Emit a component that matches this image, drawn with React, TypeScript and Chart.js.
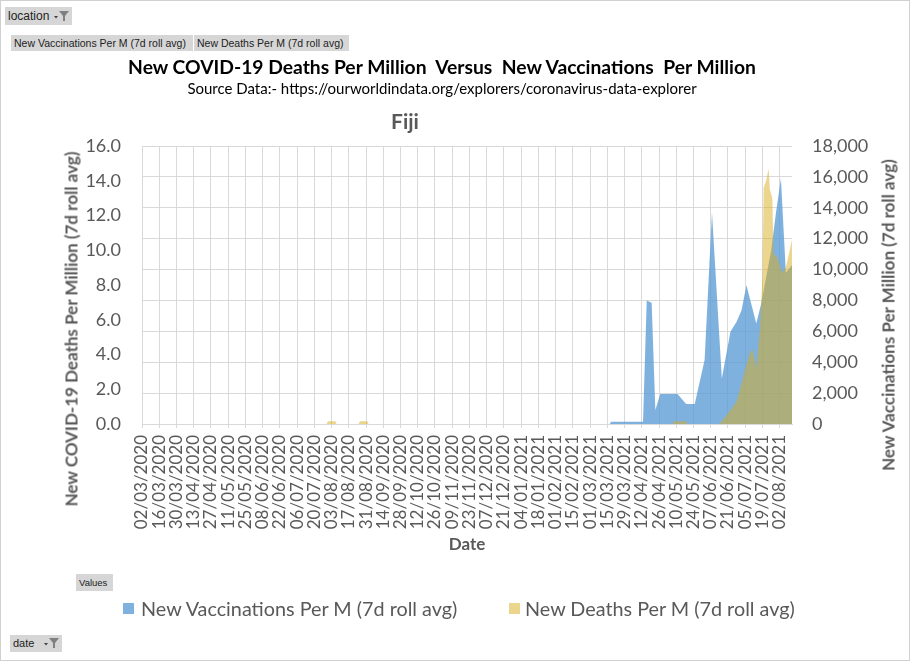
import React, { useEffect, useRef } from "react";
import { Chart, registerables } from "chart.js";

Chart.register(...registerables);

const START_DATE = "2020-03-02";
const END_DATE = "2021-08-12";

const xTickLabels = [
  "02/03/2020", "16/03/2020", "30/03/2020", "13/04/2020", "27/04/2020", "11/05/2020",
  "25/05/2020", "08/06/2020", "22/06/2020", "06/07/2020", "20/07/2020", "03/08/2020",
  "17/08/2020", "31/08/2020", "14/09/2020", "28/09/2020", "12/10/2020", "26/10/2020",
  "09/11/2020", "23/11/2020", "07/12/2020", "21/12/2020", "04/01/2021", "18/01/2021",
  "01/02/2021", "15/02/2021", "01/03/2021", "15/03/2021", "29/03/2021", "12/04/2021",
  "26/04/2021", "10/05/2021", "24/05/2021", "07/06/2021", "21/06/2021", "05/07/2021",
  "19/07/2021", "02/08/2021",
];

const leftTicks = [0, 2, 4, 6, 8, 10, 12, 14, 16];
const rightTicks = [0, 2000, 4000, 6000, 8000, 10000, 12000, 14000, 16000, 18000];

const vaccDates = [
  "2020-03-02", "2021-03-17", "2021-03-18", "2021-04-13", "2021-04-16", "2021-04-20",
  "2021-04-23", "2021-04-27", "2021-05-11", "2021-05-18", "2021-05-25", "2021-06-02",
  "2021-06-08", "2021-06-16", "2021-06-23", "2021-06-28", "2021-07-02", "2021-07-06",
  "2021-07-14", "2021-07-18", "2021-07-26", "2021-07-30", "2021-08-03", "2021-08-07",
  "2021-08-12",
];
const vaccValues = [
  0, 0, 150, 150, 8000, 7850,
  900, 1940, 1940, 1290, 1290, 4140,
  13700, 2950, 5970, 6620, 7370, 8990,
  6510, 7800, 11200, 13700, 15900, 9800,
  10300,
];

const deathDates = [
  "2020-03-02", "2020-07-30", "2020-07-31", "2020-08-06", "2020-08-07",
  "2020-08-25", "2020-08-26", "2020-09-01", "2020-09-02",
  "2021-05-07", "2021-05-08", "2021-05-18", "2021-05-19",
  "2021-06-14", "2021-06-21", "2021-06-28", "2021-07-03", "2021-07-06", "2021-07-09",
  "2021-07-11", "2021-07-14", "2021-07-17", "2021-07-19", "2021-07-20", "2021-07-22",
  "2021-07-24", "2021-07-25", "2021-07-27", "2021-07-28", "2021-07-31", "2021-08-04",
  "2021-08-07", "2021-08-12",
];
const deathValues = [
  0, 0, 0.16, 0.16, 0,
  0, 0.16, 0.16, 0,
  0, 0.16, 0.16, 0,
  0, 0.6, 1.3, 2.6, 3.4, 4.1,
  4.3, 3.2, 5.5, 8.5, 13.6, 14.0,
  14.7, 13.5, 13.0, 9.8, 9.6, 8.7,
  9.0, 10.6,
];

const legendLabels = ["New Vaccinations Per M (7d roll avg)", "New Deaths Per M (7d roll avg)"];
const titleText = "New COVID-19 Deaths Per Million  Versus  New Vaccinations  Per Million";
const subtitleText = "Source Data:- https://ourworldindata.org/explorers/coronavirus-data-explorer";

const BLUE = "rgba(91,155,213,0.78)";
const YELLOW = "rgba(217,171,25,0.5)";
const GRID = "#d9d9d9";
const TEXT = "#595959";

function dayIndex(s: string): number {
  const [y, m, d] = s.split("-").map(Number);
  const [y0, m0, d0] = START_DATE.split("-").map(Number);
  return Math.round((Date.UTC(y, m - 1, d) - Date.UTC(y0, m0 - 1, d0)) / 86400000);
}

const abs = (left: number, top: number, extra: React.CSSProperties = {}): React.CSSProperties => ({
  position: "absolute",
  left,
  top,
  whiteSpace: "pre",
  ...extra,
});

function Funnel({ x, y }: { x: number; y: number }) {
  return (
    <svg style={{ position: "absolute", left: x, top: y }} width="18" height="14" viewBox="0 0 18 14">
      <path d="M2 7 L6 7 L4 9.5 Z" fill="#404040" />
      <path d="M7 2 L17 2 L13 7 L13 12 L11 12 L11 7 Z" fill="#808080" />
    </svg>
  );
}

export default function App() {
  const canvasRef = useRef<HTMLCanvasElement | null>(null);

  useEffect(() => {
    const ctx = canvasRef.current;
    if (!ctx) return;
    const vaccData = vaccDates.map((d, i) => ({ x: dayIndex(d), y: vaccValues[i] }));
    const deathData = deathDates.map((d, i) => ({ x: dayIndex(d), y: deathValues[i] }));
    const chart = new Chart(ctx, {
      type: "line",
      data: {
        datasets: [
          {
            label: legendLabels[1],
            data: deathData,
            yAxisID: "y",
            fill: "origin",
            backgroundColor: YELLOW,
            borderColor: "transparent",
            borderWidth: 0,
            pointRadius: 0,
            tension: 0,
          },
          {
            label: legendLabels[0],
            data: vaccData,
            yAxisID: "y1",
            fill: "origin",
            backgroundColor: BLUE,
            borderColor: "transparent",
            borderWidth: 0,
            pointRadius: 0,
            tension: 0,
          },
        ],
      },
      options: {
        animation: false,
        responsive: false,
        events: [],
        layout: { padding: { top: 146, left: 0, right: 0, bottom: 0 } },
        plugins: { legend: { display: false }, tooltip: { enabled: false }, title: { display: false } },
        scales: {
          x: {
            type: "linear",
            position: "bottom",
            min: 0,
            max: dayIndex(END_DATE),
            grid: { color: GRID, tickLength: 4, tickColor: GRID },
            border: { color: GRID },
            ticks: {
              stepSize: 14,
              autoSkip: false,
              includeBounds: false,
              minRotation: 90,
              maxRotation: 90,
              padding: 7,
              color: TEXT,
              font: { family: "Lato", size: 17 },
              callback: (v: any) => {
                const k = Number(v) / 14;
                return Number.isInteger(k) && xTickLabels[k] ? xTickLabels[k] : "";
              },
            },
            afterFit: (s: any) => {
              s.height = 237;
            },
          },
          y: {
            type: "linear",
            position: "left",
            min: leftTicks[0],
            max: leftTicks[leftTicks.length - 1],
            grid: { display: false, drawTicks: false },
            border: { display: false },
            ticks: {
              stepSize: leftTicks[1] - leftTicks[0],
              padding: 21,
              color: TEXT,
              font: { family: "Lato", size: 18 },
              callback: (v: any) => Number(v).toFixed(1),
            },
            afterFit: (s: any) => {
              s.width = 142;
            },
          },
          y1: {
            type: "linear",
            position: "right",
            min: rightTicks[0],
            max: rightTicks[rightTicks.length - 1],
            grid: { color: GRID, drawTicks: false },
            border: { display: false },
            ticks: {
              stepSize: rightTicks[1] - rightTicks[0],
              padding: 20,
              color: TEXT,
              font: { family: "Lato", size: 18 },
              callback: (v: any) => Number(v).toLocaleString("en-US"),
            },
            afterFit: (s: any) => {
              s.width = 118;
            },
          },
        },
      },
    } as any);
    return () => chart.destroy();
  }, []);

  const btn: React.CSSProperties = {
    background: "#d6d6d6",
    fontFamily: "Liberation Sans",
    fontSize: 10.5,
    color: "#222",
    boxSizing: "border-box",
    lineHeight: "16px",
    paddingLeft: 3,
  };

  return (
    <div style={{ position: "absolute", left: 0, top: 0, width: 910, height: 661, background: "#fff", overflow: "hidden" }}>
      <canvas ref={canvasRef} width={910} height={661} style={{ position: "absolute", left: 0, top: 0, width: 910, height: 661 }} />
      <div style={{ position: "absolute", left: 0, top: 0, width: 910, height: 661, border: "1px solid #d0d0d0", boxSizing: "border-box", pointerEvents: "none" }} />

      <div style={abs(5, 7, { ...btn, width: 67, height: 18, lineHeight: "18px", fontSize: 12 })}>location</div>
      <Funnel x={52} y={9} />
      <div style={abs(11, 35, { ...btn, width: 182, height: 16 })}>{legendLabels[0]}</div>
      <div style={abs(194, 35, { ...btn, width: 155, height: 16 })}>{legendLabels[1]}</div>

      <div style={abs(442, 66, { transform: "translate(-50%,-50%)", fontFamily: "Lato", fontWeight: 700, fontSize: 19.3, color: "#000" })}>{titleText}</div>
      <div style={abs(442, 88, { transform: "translate(-50%,-50%)", fontFamily: "Lato", fontSize: 15, color: "#000" })}>{subtitleText}</div>
      <div style={abs(405, 120, { transform: "translate(-50%,-50%)", fontFamily: "Lato", fontWeight: 700, fontSize: 21, color: TEXT })}>Fiji</div>

      <div style={abs(71, 329, { transform: "translate(-50%,-50%) rotate(-90deg)", fontFamily: "Lato", fontWeight: 700, fontSize: 17, color: TEXT })}>
        New COVID-19 Deaths Per Million (7d roll avg)
      </div>
      <div style={abs(888, 315, { transform: "translate(-50%,-50%) rotate(-90deg)", fontFamily: "Lato", fontWeight: 700, fontSize: 17, color: TEXT })}>
        New Vaccinations Per Million (7d roll avg)
      </div>
      <div style={abs(467, 543, { transform: "translate(-50%,-50%)", fontFamily: "Lato", fontWeight: 700, fontSize: 17, color: TEXT })}>Date</div>

      <div style={abs(76, 574, { ...btn, width: 37, height: 17, fontSize: 9.5, lineHeight: "17px" })}>Values</div>

      <div style={abs(123, 603, { width: 11, height: 11, background: BLUE })} />
      <div style={abs(141, 608, { transform: "translateY(-50%)", fontFamily: "Lato", fontSize: 19.8, color: TEXT })}>{legendLabels[0]}</div>
      <div style={abs(509, 603, { width: 11, height: 11, background: YELLOW })} />
      <div style={abs(525, 608, { transform: "translateY(-50%)", fontFamily: "Lato", fontSize: 19.8, color: TEXT })}>{legendLabels[1]}</div>

      <div style={abs(10, 635, { ...btn, width: 52, height: 17, lineHeight: "17px", fontSize: 11 })}>date</div>
      <Funnel x={42} y={636} />
    </div>
  );
}
